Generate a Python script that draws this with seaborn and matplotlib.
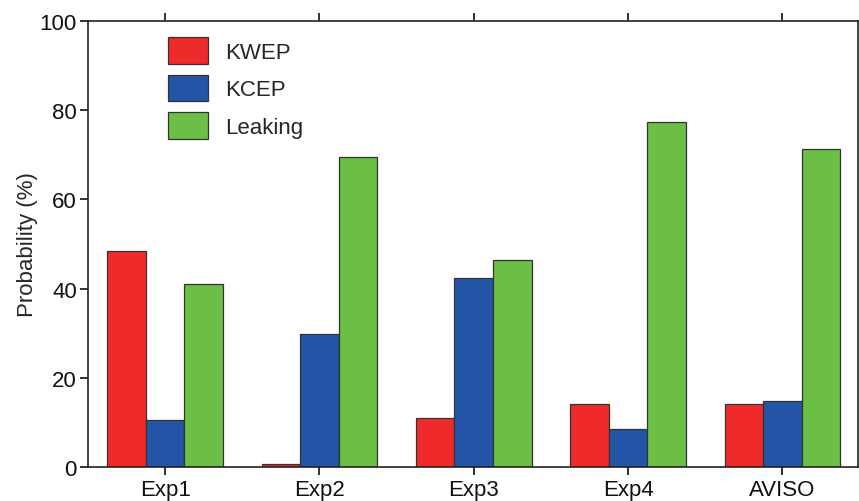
import matplotlib
matplotlib.use("Agg")
import matplotlib.pyplot as plt
import seaborn as sns
import pandas as pd

categories = ["Exp1", "Exp2", "Exp3", "Exp4", "AVISO"]
kwep = [48.4, 0.7, 11.0, 14.1, 14.1]
kcep = [10.5, 29.8, 42.4, 8.5, 14.8]
leaking = [41.0, 69.5, 46.4, 77.4, 71.3]
series_names = ["KWEP", "KCEP", "Leaking"]
palette = ["#EE2A2A", "#2454A6", "#6CBF45"]

rows = []
for name, vals in zip(series_names, [kwep, kcep, leaking]):
    for cat, v in zip(categories, vals):
        rows.append({"Case": cat, "Type": name, "Probability": v})
df = pd.DataFrame(rows)

sns.set_theme(style="white")
plt.rcParams["font.family"] = ["Liberation Sans", "DejaVu Sans"]

fig = plt.figure(figsize=(8.59, 5.02), dpi=100)
ax = fig.add_axes([88 / 859, 1 - 468 / 502, (858 - 88) / 859, (468 - 22) / 502])

sns.barplot(data=df, x="Case", y="Probability", hue="Type", order=categories,
            hue_order=series_names, palette=palette, width=0.75, gap=0,
            saturation=1, edgecolor="#333333", linewidth=0.9, ax=ax)

ax.set_xlim(-0.5, 4.49)
ax.set_ylim(0, 100)
ax.set_yticks([0, 20, 40, 60, 80, 100])
ax.set_xlabel("")
ax.set_ylabel("Probability (%)", fontsize=16, labelpad=1.5)

for s in ax.spines.values():
    s.set_visible(True)
    s.set_color("#222222")
    s.set_linewidth(1.2)

ax.tick_params(axis="both", labelsize=16, colors="#111111", direction="out",
               length=6, width=1.2)
ax.tick_params(axis="x", top=True, bottom=True, pad=3)
ax.tick_params(axis="y", left=True, right=False, pad=2)

leg = ax.legend(loc="upper left", bbox_to_anchor=(0.078, 1.008), frameon=False,
                fontsize=16, handlelength=1.8, handleheight=1.45,
                labelspacing=0.5, handletextpad=0.75)
for h in leg.legend_handles:
    h.set_edgecolor("#333333")
    h.set_linewidth(0.9)

fig.savefig("out.png", dpi=100)
